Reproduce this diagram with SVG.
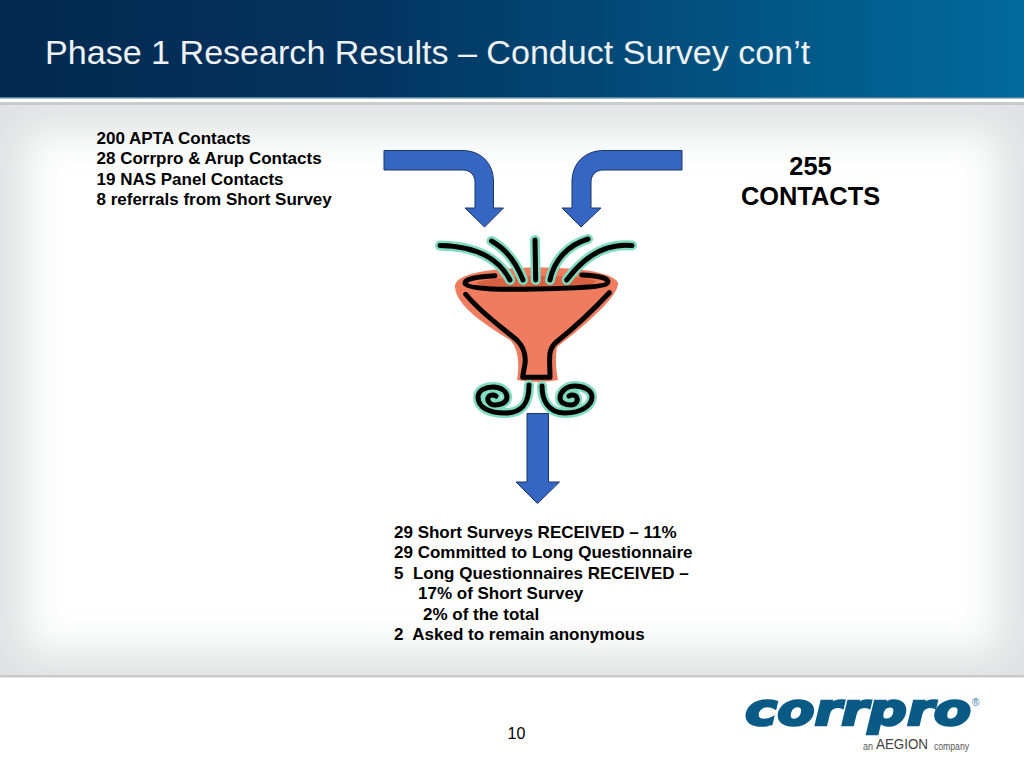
<svg xmlns="http://www.w3.org/2000/svg" width="1024" height="768" viewBox="0 0 1024 768">
<style>
text{font-family:"Liberation Sans",Arial,sans-serif;fill:#000}
.b{font-size:17px;font-weight:700}
.c{font-size:25.400px;font-weight:700}
.arrow{fill:#3566c4;stroke:#1b3566;stroke-width:1}
.glow{fill:none;stroke:#7fdcc0;stroke-width:10;stroke-linecap:round;stroke-linejoin:round}
.ink{fill:none;stroke:#000;stroke-width:5;stroke-linecap:round;stroke-linejoin:round}
</style>
<defs>
<linearGradient id="hdr" x1="0" y1="0" x2="1" y2="0">
<stop offset="0" stop-color="#02294f"/><stop offset="0.35" stop-color="#03335f"/><stop offset="0.7" stop-color="#02527f"/><stop offset="1" stop-color="#016a9f"/>
</linearGradient>
<filter id="soft" x="-10%" y="-10%" width="120%" height="120%"><feGaussianBlur stdDeviation="20"/></filter>
<filter id="s1" x="-5%" y="-5%" width="110%" height="110%"><feGaussianBlur stdDeviation="0.5"/></filter>
<clipPath id="panel"><rect x="0" y="104" width="1024" height="572"/></clipPath>
<path id="spiralL" d="M529 385C529 400 525 413 505 413C490 413 478 408 478 397C478 390 486 387 493 387C502 387 507 392 507 397C507 403 500 405 495 405C490 405 487 401 488 398C489 395 493 394 496 396"/>
<path id="spiralR" d="M542 386C542 400 548 413 565 413C582 413 592 405 592 397C592 390 583 386 575 386C566 386 560 392 560 398C560 403 566 405 571 405C576 405 578 401 577 398C576 395 572 394 569 396"/>
<path id="fan" d="M440 245.500C467 246 496 253 510 280M491.500 241C506 249 516 262 523 280M535 240L535.700 280M588 239C568 245 554 260 550 280M632 245.500C605 243 583 258 566.700 280"/>
<path id="rim" d="M495 275.700C478 276.500 464 279 465 283.300C467 289 500 290 536.700 289C580 288 608 287 608 281.700C608 278 596 275.500 581.700 275"/>
<path id="body" d="M465.700 294.300C480 312 500 326 516.700 340C524 347 526 355 525 364C524 370 523 373 522.700 377.300H550C550 368 549 360 550 353C551 348 553 345 556.700 341.700C575 327 595 308 609.300 292.700"/>
</defs>
<rect width="1024" height="768" fill="#fff"/>
<g id="header">
<rect x="0" y="0" width="1024" height="98" fill="url(#hdr)"/>
<rect x="0" y="97" width="1024" height="1.500" fill="#4d7f9f"/>
<text x="45" y="64" style="font-size:34.100px;fill:#eef2f5">Phase 1 Research Results – Conduct Survey con’t</text>
</g>
<g id="background">
<rect x="0" y="102" width="1024" height="575" fill="#dfe2e2"/>
<g clip-path="url(#panel)"><rect x="25" y="132" width="974" height="520" fill="#fff" filter="url(#soft)"/></g>
<rect x="0" y="102" width="1024" height="3" fill="#c9cbc9"/>
<rect x="0" y="675" width="1024" height="2.500" fill="#c9cbc9"/>
</g>
<g id="sources">
<text x="96.500" y="143.700" class="b">200 APTA Contacts</text>
<text x="96.500" y="164.200" class="b">28 Corrpro &amp; Arup Contacts</text>
<text x="96.500" y="184.700" class="b">19 NAS Panel Contacts</text>
<text x="96.500" y="205.200" class="b">8 referrals from Short Survey</text>
</g>
<g id="total">
<text x="810.500" y="175" text-anchor="middle" class="c">255</text>
<text x="810.500" y="205" text-anchor="middle" class="c">CONTACTS</text>
</g>
<g id="funnel" filter="url(#s1)">
<path fill="#ef7b5e" d="M455 287C454 276 480 270 510 268.500C545 266 612 268 618 283C619 295 590 322 557 347C555 358 556 370 558 380Q537 384 517 380C519 368 520 350 510 340C487 326 456 306 455 287Z"/>
<path fill="#d9603f" d="M476 283C490 275 580 273 596 281C596 285 570 288 535 288C505 288 480 288 476 283Z"/>
<use href="#fan" class="glow"/>
<use href="#spiralL" class="glow"/>
<use href="#spiralR" class="glow"/>
<use href="#rim" class="ink"/>
<use href="#body" class="ink"/>
<use href="#fan" class="ink"/>
<use href="#spiralL" class="ink"/>
<use href="#spiralR" class="ink"/>
</g>
<g id="connectors">
<path class="arrow" d="M384 150.500H462C481 150.500 493.500 163 493.500 182V208H503.500L484.500 227L465 208H475V182C475 175 470 170 463 170H384Z"/>
<path class="arrow" d="M682 150.500H604C585 150.500 572 163 572 182V208H562L581 227L601 208H591V182C591 175 596 170 603 170H682Z"/>
<path class="arrow" d="M527 413.500H548.500V482H559.500L537.500 503.500L516 482H527Z"/>
</g>
<g id="results">
<text x="394" y="537.700" class="b">29 Short Surveys RECEIVED – 11%</text>
<text x="394" y="558.200" class="b">29 Committed to Long Questionnaire</text>
<text x="394" y="578.700" class="b" xml:space="preserve">5  Long Questionnaires RECEIVED –</text>
<text x="418" y="599.200" class="b">17% of Short Survey</text>
<text x="423" y="619.700" class="b">2% of the total</text>
<text x="394" y="640.200" class="b" xml:space="preserve">2  Asked to remain anonymous</text>
</g>
<g id="page"><text x="516.500" y="739" text-anchor="middle" style="font-size:16px">10</text></g>
<g id="logo">
<text x="745" y="725" textLength="226" lengthAdjust="spacingAndGlyphs" style="font-family:'DejaVu Sans',sans-serif;font-size:44px;font-weight:700;font-style:italic;fill:#0a5a86;stroke:#0a5a86;stroke-width:2.500">corrpro</text>
<text x="972" y="706" style="font-size:10px;fill:#2f7ba5">®</text>
<text x="863" y="750" textLength="10" lengthAdjust="spacingAndGlyphs" style="font-size:11.500px;fill:#555">an</text>
<text x="876" y="749" textLength="52" lengthAdjust="spacingAndGlyphs" style="font-size:15.500px;fill:#444">AEGION</text>
<text x="934" y="750" textLength="35" lengthAdjust="spacingAndGlyphs" style="font-size:10px;fill:#555">company</text>
</g>
</svg>
